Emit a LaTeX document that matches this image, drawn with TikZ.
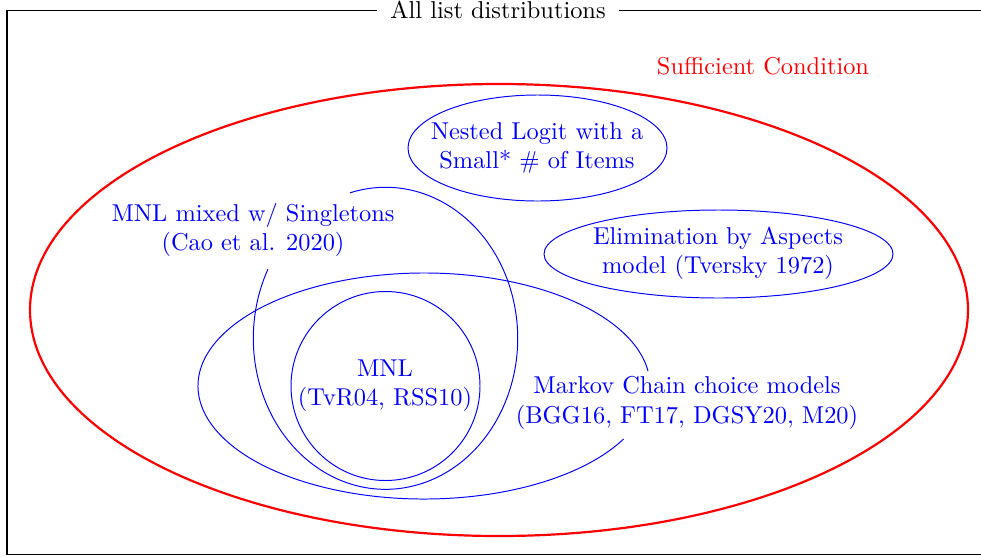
\documentclass[tikz,border=0pt]{standalone}
\begin{document}
\begin{tikzpicture}[x=0.41pt,y=-0.41pt,
  setline/.style={blue, line width=0.4pt},
  bigset/.style={red, line width=0.9pt},
  setlabel/.style={blue, align=center, inner sep=0pt},
  framestyle/.style={black, line width=0.45pt},
]
\useasboundingbox (0,0) rectangle (981,557);
% outer frame
\draw[framestyle] (7,10.5) rectangle (1000,554.5);
\node[fill=white, inner xsep=5.5pt, inner ysep=2pt] (title) at (498,9.5) {All list distributions};
% centres
\coordinate (mixc) at (385.5,338.3);
\coordinate (mkc) at (424,386);
% sets
\draw[setline] (537.5,148) ellipse [x radius=129.5, y radius=53];
\draw[setline] (718.5,254) ellipse [x radius=174.5, y radius=44];
\draw[setline] (385.5,386) circle [radius=94.5];
\draw[setline] ([shift={(254.4:132.2 and 151)}]mixc) arc[start angle=254.4, end angle=567.2, x radius=132.2, y radius=151];
\draw[setline] ([shift={(28:226 and 113)}]mkc) arc[start angle=28, end angle=352.4, x radius=226, y radius=113];
\draw[bigset] (499,310) ellipse [x radius=469, y radius=226];
% labels
\node[red, inner sep=0pt] (suff) at (763,66) {Sufficient Condition};
\node[setlabel] (nested) at (537,148) {Nested Logit with a\\Small* \# of Items};
\node[setlabel] (eba) at (718,253) {Elimination by Aspects\\model (Tversky 1972)};
\node[setlabel] (mixed) at (253,230) {MNL mixed w/ Singletons\\(Cao et al. 2020)};
\node[setlabel] (mnl) at (385,386) {MNL\\(TvR04, RSS10)};
\node[setlabel] (markov) at (687,403) {Markov Chain choice models\\(BGG16, FT17, DGSY20, M20)};
\end{tikzpicture}
\end{document}
